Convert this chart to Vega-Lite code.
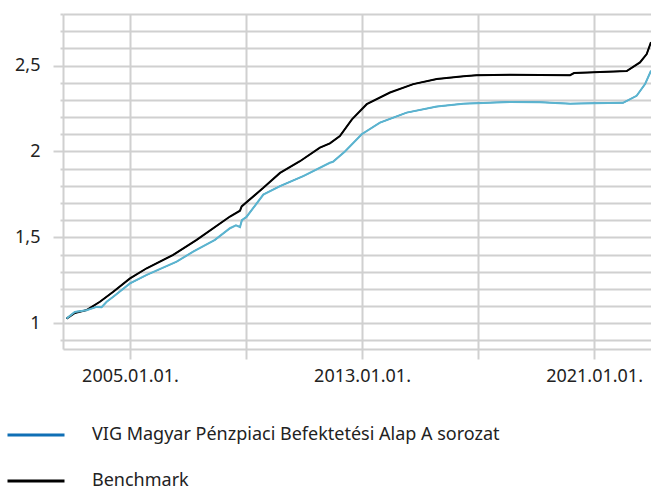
{
  "$schema": "https://vega.github.io/schema/vega-lite/v6.json",
  "autosize": {"type": "none"},
  "width": 588,
  "height": 335,
  "padding": {"left": 63, "top": 14, "right": 0, "bottom": 140},
  "background": "white",
  "config": {
    "font": "Noto Sans",
    "view": {"stroke": null}
  },
  "data": {
    "values": [
      {"date": "2002-10-25", "series": "Benchmark", "value": 1.027},
      {"date": "2003-02-06", "series": "Benchmark", "value": 1.060},
      {"date": "2003-07-03", "series": "Benchmark", "value": 1.076},
      {"date": "2003-12-19", "series": "Benchmark", "value": 1.125},
      {"date": "2004-06-04", "series": "Benchmark", "value": 1.183},
      {"date": "2005-01-01", "series": "Benchmark", "value": 1.261},
      {"date": "2005-07-30", "series": "Benchmark", "value": 1.320},
      {"date": "2006-06-29", "series": "Benchmark", "value": 1.398},
      {"date": "2007-04-20", "series": "Benchmark", "value": 1.485},
      {"date": "2008-06-13", "series": "Benchmark", "value": 1.621},
      {"date": "2008-10-17", "series": "Benchmark", "value": 1.655},
      {"date": "2008-11-07", "series": "Benchmark", "value": 1.680},
      {"date": "2009-08-07", "series": "Benchmark", "value": 1.788},
      {"date": "2010-03-05", "series": "Benchmark", "value": 1.875},
      {"date": "2010-11-11", "series": "Benchmark", "value": 1.943},
      {"date": "2011-07-20", "series": "Benchmark", "value": 2.022},
      {"date": "2011-11-23", "series": "Benchmark", "value": 2.047},
      {"date": "2012-03-28", "series": "Benchmark", "value": 2.090},
      {"date": "2012-08-27", "series": "Benchmark", "value": 2.187},
      {"date": "2013-03-01", "series": "Benchmark", "value": 2.275},
      {"date": "2013-12-19", "series": "Benchmark", "value": 2.343},
      {"date": "2014-10-08", "series": "Benchmark", "value": 2.392},
      {"date": "2015-07-30", "series": "Benchmark", "value": 2.421},
      {"date": "2016-06-29", "series": "Benchmark", "value": 2.437},
      {"date": "2016-12-15", "series": "Benchmark", "value": 2.444},
      {"date": "2018-02-07", "series": "Benchmark", "value": 2.446},
      {"date": "2019-02-20", "series": "Benchmark", "value": 2.445},
      {"date": "2020-03-05", "series": "Benchmark", "value": 2.444},
      {"date": "2020-04-23", "series": "Benchmark", "value": 2.456},
      {"date": "2021-03-17", "series": "Benchmark", "value": 2.462},
      {"date": "2022-02-16", "series": "Benchmark", "value": 2.468},
      {"date": "2022-08-02", "series": "Benchmark", "value": 2.518},
      {"date": "2022-10-26", "series": "Benchmark", "value": 2.567},
      {"date": "2022-12-19", "series": "Benchmark", "value": 2.636},
      {"date": "2002-10-25", "series": "VIG Magyar Pénzpiaci Befektetési Alap A sorozat", "value": 1.027},
      {"date": "2003-02-06", "series": "VIG Magyar Pénzpiaci Befektetési Alap A sorozat", "value": 1.066},
      {"date": "2003-07-03", "series": "VIG Magyar Pénzpiaci Befektetési Alap A sorozat", "value": 1.076},
      {"date": "2003-11-07", "series": "VIG Magyar Pénzpiaci Befektetési Alap A sorozat", "value": 1.095},
      {"date": "2004-01-09", "series": "VIG Magyar Pénzpiaci Befektetési Alap A sorozat", "value": 1.093},
      {"date": "2004-03-13", "series": "VIG Magyar Pénzpiaci Befektetési Alap A sorozat", "value": 1.125},
      {"date": "2004-06-04", "series": "VIG Magyar Pénzpiaci Befektetési Alap A sorozat", "value": 1.154},
      {"date": "2005-01-01", "series": "VIG Magyar Pénzpiaci Befektetési Alap A sorozat", "value": 1.232},
      {"date": "2005-07-30", "series": "VIG Magyar Pénzpiaci Befektetési Alap A sorozat", "value": 1.281},
      {"date": "2006-08-11", "series": "VIG Magyar Pénzpiaci Befektetési Alap A sorozat", "value": 1.358},
      {"date": "2007-03-08", "series": "VIG Magyar Pénzpiaci Befektetési Alap A sorozat", "value": 1.417},
      {"date": "2007-12-06", "series": "VIG Magyar Pénzpiaci Befektetési Alap A sorozat", "value": 1.485},
      {"date": "2008-06-13", "series": "VIG Magyar Pénzpiaci Befektetési Alap A sorozat", "value": 1.553},
      {"date": "2008-08-27", "series": "VIG Magyar Pénzpiaci Befektetési Alap A sorozat", "value": 1.570},
      {"date": "2008-10-17", "series": "VIG Magyar Pénzpiaci Befektetési Alap A sorozat", "value": 1.560},
      {"date": "2008-11-10", "series": "VIG Magyar Pénzpiaci Befektetési Alap A sorozat", "value": 1.600},
      {"date": "2009-01-09", "series": "VIG Magyar Pénzpiaci Befektetési Alap A sorozat", "value": 1.620},
      {"date": "2009-08-07", "series": "VIG Magyar Pénzpiaci Befektetési Alap A sorozat", "value": 1.749},
      {"date": "2010-03-05", "series": "VIG Magyar Pénzpiaci Befektetési Alap A sorozat", "value": 1.798},
      {"date": "2010-12-22", "series": "VIG Magyar Pénzpiaci Befektetési Alap A sorozat", "value": 1.856},
      {"date": "2011-11-23", "series": "VIG Magyar Pénzpiaci Befektetési Alap A sorozat", "value": 1.934},
      {"date": "2012-01-01", "series": "VIG Magyar Pénzpiaci Befektetési Alap A sorozat", "value": 1.940},
      {"date": "2012-05-31", "series": "VIG Magyar Pénzpiaci Befektetési Alap A sorozat", "value": 2.000},
      {"date": "2012-12-28", "series": "VIG Magyar Pénzpiaci Befektetési Alap A sorozat", "value": 2.100},
      {"date": "2013-08-15", "series": "VIG Magyar Pénzpiaci Befektetési Alap A sorozat", "value": 2.168},
      {"date": "2014-07-17", "series": "VIG Magyar Pénzpiaci Befektetési Alap A sorozat", "value": 2.226},
      {"date": "2015-07-30", "series": "VIG Magyar Pénzpiaci Befektetési Alap A sorozat", "value": 2.261},
      {"date": "2016-06-29", "series": "VIG Magyar Pénzpiaci Befektetési Alap A sorozat", "value": 2.278},
      {"date": "2018-02-07", "series": "VIG Magyar Pénzpiaci Befektetési Alap A sorozat", "value": 2.288},
      {"date": "2019-02-20", "series": "VIG Magyar Pénzpiaci Befektetési Alap A sorozat", "value": 2.287},
      {"date": "2020-03-05", "series": "VIG Magyar Pénzpiaci Befektetési Alap A sorozat", "value": 2.278},
      {"date": "2020-12-22", "series": "VIG Magyar Pénzpiaci Befektetési Alap A sorozat", "value": 2.281},
      {"date": "2022-01-01", "series": "VIG Magyar Pénzpiaci Befektetési Alap A sorozat", "value": 2.283},
      {"date": "2022-06-21", "series": "VIG Magyar Pénzpiaci Befektetési Alap A sorozat", "value": 2.324},
      {"date": "2022-10-05", "series": "VIG Magyar Pénzpiaci Befektetési Alap A sorozat", "value": 2.392},
      {"date": "2022-12-19", "series": "VIG Magyar Pénzpiaci Befektetési Alap A sorozat", "value": 2.470}
    ]
  },
  "encoding": {
    "x": {
      "field": "date",
      "type": "temporal",
      "title": null,
      "scale": {"domain": [{"year": 2002, "month": 9, "date": 10}, {"year": 2022, "month": 12, "date": 19}]},
      "axis": {
        "values": [
          {"year": 2005, "month": 1, "date": 1},
          {"year": 2009, "month": 1, "date": 1},
          {"year": 2013, "month": 1, "date": 1},
          {"year": 2017, "month": 1, "date": 1},
          {"year": 2021, "month": 1, "date": 1}
        ],
        "labelExpr": "year(datum.value) % 8 == 5 ? timeFormat(datum.value, '%Y.%m.%d.') : ''",
        "grid": true,
        "gridColor": "#d0d0d0",
        "gridWidth": 2,
        "domainColor": "#d0d0d0",
        "domainWidth": 2,
        "tickColor": "#d0d0d0",
        "tickWidth": 2,
        "tickSize": 10,
        "labelFontSize": 18,
        "labelColor": "#222222",
        "labelPadding": 8,
        "labelFlush": false,
        "labelOverlap": false
      }
    },
    "y": {
      "field": "value",
      "type": "quantitative",
      "title": null,
      "scale": {"domain": [0.85, 2.8], "nice": false, "zero": false},
      "axis": {
        "values": [0.9, 1, 1.1, 1.2, 1.3, 1.4, 1.5, 1.6, 1.7, 1.8, 1.9, 2, 2.1, 2.2, 2.3, 2.4, 2.5, 2.6, 2.7, 2.8],
        "labelExpr": "abs(datum.value * 2 - round(datum.value * 2)) < 0.01 ? replace(toString(datum.value), '.', ',') : ''",
        "grid": true,
        "gridColor": "#d0d0d0",
        "gridWidth": 2,
        "domainColor": "#d0d0d0",
        "domainWidth": 2,
        "tickColor": "#d0d0d0",
        "tickWidth": 2,
        "tickSize": {"condition": {"test": "abs(datum.value * 2 - round(datum.value * 2)) < 0.01", "value": 10}, "value": 3},
        "labelFontSize": 18,
        "labelColor": "#222222",
        "labelPadding": 13,
        "labelOverlap": false
      }
    }
  },
  "layer": [
    {
      "mark": {"type": "line", "strokeWidth": 1.2, "clip": true},
      "encoding": {
        "stroke": {
          "field": "series",
          "type": "nominal",
          "scale": {
            "domain": ["VIG Magyar Pénzpiaci Befektetési Alap A sorozat", "Benchmark"],
            "range": ["#0f6fb5", "#000000"]
          },
          "legend": {
            "title": null,
            "orient": "none",
            "legendX": -57,
            "legendY": 411,
            "direction": "vertical",
            "symbolType": "stroke",
            "symbolSize": 3249,
            "symbolStrokeWidth": 3,
            "clipHeight": 20,
            "rowPadding": 26,
            "labelOffset": 26,
            "labelFontSize": 18,
            "labelColor": "#222222",
            "labelLimit": 600,
            "padding": 0
          }
        }
      }
    },
    {
      "mark": {"type": "line", "strokeWidth": 2, "clip": true},
      "encoding": {
        "color": {
          "field": "series",
          "type": "nominal",
          "scale": {
            "domain": ["VIG Magyar Pénzpiaci Befektetési Alap A sorozat", "Benchmark"],
            "range": ["#5bb4cf", "#000000"]
          },
          "legend": null
        }
      }
    }
  ]
}
